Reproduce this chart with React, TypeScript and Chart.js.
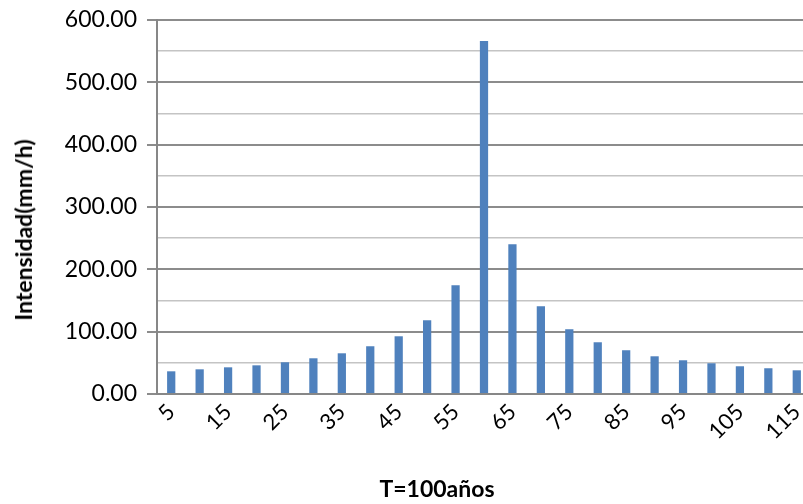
import React, { useEffect, useRef } from "react";
import { Chart, registerables } from "chart.js";

Chart.register(...registerables);

const categories: string[] = [
  "5", "10", "15", "20", "25", "30", "35", "40", "45", "50", "55", "60",
  "65", "70", "75", "80", "85", "90", "95", "100", "105", "110", "115",
];
const intensidad: number[] = [
  36.4, 39.6, 42.8, 46.0, 50.9, 57.3, 65.3, 76.6, 92.6, 118.3, 174.5, 566.3,
  240.4, 140.8, 103.9, 83.0, 70.2, 60.5, 54.1, 49.3, 44.5, 41.3, 38.0,
];
const yMin = 0;
const yMax = 600;
const yStep = 50;
const xTitle = "T=100años";
const yTitle = "Intensidad(mm/h)";

const FONT = "Lato, 'Open Sans', sans-serif";

export default function App() {
  const canvasRef = useRef<HTMLCanvasElement | null>(null);

  useEffect(() => {
    const canvas = canvasRef.current;
    if (!canvas) return;
    const chart = new Chart(canvas, {
      type: "bar",
      data: {
        labels: categories,
        datasets: [
          {
            label: yTitle,
            data: intensidad,
            backgroundColor: "#4F81BD",
            borderWidth: 0,
            barPercentage: 0.29,
            categoryPercentage: 1,
          },
        ],
      },
      options: {
        animation: false,
        responsive: true,
        maintainAspectRatio: false,
        layout: { padding: { top: 20, left: 0, right: 0, bottom: 0 } },
        plugins: {
          legend: { display: false },
          tooltip: { enabled: false },
          title: { display: false },
        },
        scales: {
          x: {
            offset: true,
            grid: { display: false, drawTicks: false },
            border: { display: true, color: "#878787", width: 2 },
            ticks: {
              autoSkip: false,
              minRotation: 45,
              maxRotation: 45,
              padding: 5,
              color: "#000000",
              font: { family: FONT, size: 22 },
              callback: (_v: any, i: number) => (i % 2 === 0 ? categories[i] : ""),
            },
            afterFit: (scale: any) => {
              scale.height = 110;
              scale.paddingLeft = 0;
              scale.paddingRight = 0;
            },
          },
          y: {
            min: yMin,
            max: yMax,
            grid: {
              color: (ctx: any) =>
                ctx.tick && ctx.tick.value % 100 === 0 ? "#8c8c8c" : "#c4c4c4",
              lineWidth: (ctx: any) =>
                ctx.tick && ctx.tick.value % 100 === 0 ? 2 : 1.5,
              tickColor: (ctx: any) =>
                ctx.tick && ctx.tick.value % 100 === 0 ? "#8c8c8c" : "rgba(0,0,0,0)",
              tickLength: 10,
            },
            border: { display: true, color: "#878787", width: 2 },
            ticks: {
              stepSize: yStep,
              padding: 10,
              color: "#000000",
              font: { family: FONT, size: 23 },
              callback: (v: any) => (Number(v) % 100 === 0 ? Number(v).toFixed(2) : ""),
            },
            afterFit: (scale: any) => {
              scale.width = 157;
              scale.paddingTop = 0;
              scale.paddingBottom = 0;
            },
          },
        },
      },
    });
    return () => chart.destroy();
  }, []);

  return (
    <div
      style={{
        position: "fixed",
        left: 0,
        top: 0,
        width: 803,
        height: 504,
        overflow: "hidden",
        background: "#ffffff",
      }}
    >
      <div style={{ position: "absolute", left: 0, top: 0, width: 811, height: 504 }}>
        <canvas ref={canvasRef} />
      </div>
      <div
        style={{
          position: "absolute",
          left: 23,
          top: 230,
          transform: "translate(-50%, -50%) rotate(-90deg)",
          whiteSpace: "nowrap",
          fontFamily: FONT,
          fontWeight: 700,
          fontSize: 23,
          color: "#000000",
        }}
      >
        {yTitle}
      </div>
      <div
        style={{
          position: "absolute",
          left: 437,
          top: 488,
          transform: "translate(-50%, -50%)",
          whiteSpace: "nowrap",
          fontFamily: FONT,
          fontWeight: 700,
          fontSize: 23,
          color: "#000000",
        }}
      >
        {xTitle}
      </div>
    </div>
  );
}
